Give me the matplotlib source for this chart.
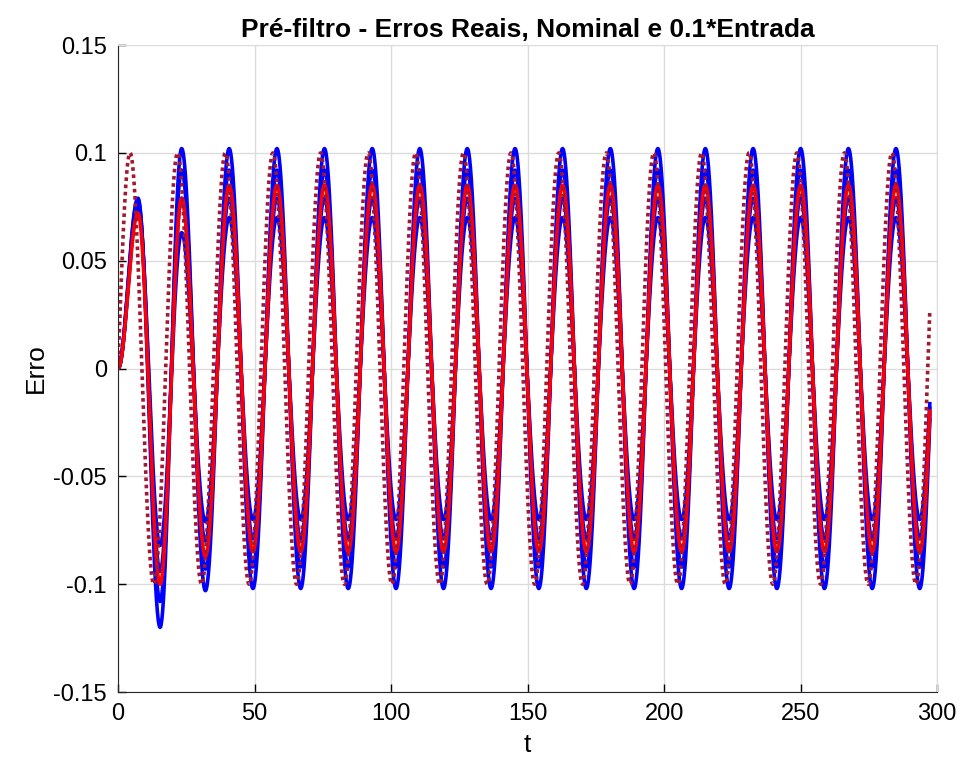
import numpy as np
import matplotlib
matplotlib.use("Agg")
import matplotlib.pyplot as plt
from matplotlib.ticker import FuncFormatter

# ---- dados ----
T_FIM = 297.3

# extremos (picos/vales) da entrada 0.1*Entrada
t_ext_entrada = [-4.4, 4.4, 13.1, 21.8, 30.6, 39.3, 48.0, 56.7, 65.4, 74.2, 82.9, 91.6,
                 100.3, 109.0, 117.8, 126.5, 135.2, 143.9, 152.6, 161.4, 170.1, 178.8,
                 187.5, 196.2, 205.0, 213.7, 222.4, 231.1, 239.8, 248.6, 257.3, 266.0,
                 274.7, 283.4, 292.2, 300.9]
v_ext_entrada = [-0.1, 0.1] * 18

# extremos dos erros (reais e nominal)
t_ext_erro = [0, 7.3, 15.4, 23.3, 32.0, 40.7, 49.4, 58.2, 66.9, 75.6, 84.3, 93.1, 101.8,
              110.5, 119.2, 127.9, 136.6, 145.4, 154.1, 162.8, 171.5, 180.3, 189.0, 197.7,
              206.4, 215.1, 223.8, 232.6, 241.3, 250.0, 258.7, 267.5, 276.2, 284.9, 293.6,
              302.3]
erro_real_1 = [0, 0.079, -0.120, 0.102, -0.103] + [0.102, -0.102] * 15 + [0.102]
erro_real_2 = [0, 0.078, -0.108, 0.092, -0.093] + [0.092, -0.092] * 15 + [0.092]
erro_real_3 = [0, 0.076, -0.094, 0.079, -0.080] + [0.079, -0.079] * 15 + [0.079]
erro_real_4 = [0, 0.074, -0.082, 0.063, -0.071] + [0.070, -0.070] * 15 + [0.070]
erro_nominal = [0, 0.072, -0.100, 0.079, -0.087] + [0.085, -0.085] * 15 + [0.085]

y_ticks = [-0.15, -0.1, -0.05, 0, 0.05, 0.1, 0.15]
x_ticks = [0, 50, 100, 150, 200, 250, 300]


def curva(t_ext, v_ext, t):
    # liga os extremos lidos com meias-ondas suaves
    t_ext = np.asarray(t_ext, float); v_ext = np.asarray(v_ext, float)
    i = np.clip(np.searchsorted(t_ext, t, side="right") - 1, 0, len(t_ext) - 2)
    s = (t - t_ext[i]) / (t_ext[i + 1] - t_ext[i])
    return v_ext[i] + (v_ext[i + 1] - v_ext[i]) * (1 - np.cos(np.pi * s)) / 2


plt.rcParams["font.family"] = ["Liberation Sans", "DejaVu Sans"]

t = np.linspace(0, T_FIM, 4000)
fig = plt.figure(figsize=(9.62, 7.72), dpi=100)
ax = fig.add_axes([0.1227, 0.1036, 0.8515, 0.838])

for e in [erro_real_1, erro_real_2, erro_real_3, erro_real_4]:
    ax.plot(t, curva(t_ext_erro, e, t), color="#0000ff", lw=2.6)
ax.plot(t, curva(t_ext_erro, erro_nominal, t), color="#ff0000", lw=2.6)
ax.plot(t, curva(t_ext_entrada, v_ext_entrada, t), color="#a3182c", lw=2.6,
        linestyle=(0, (1, 1)))

ax.set_xlim(0, 300); ax.set_ylim(-0.15, 0.15)
ax.set_xticks(x_ticks); ax.set_yticks(y_ticks)
ax.yaxis.set_major_formatter(FuncFormatter(lambda v, p: f"{v:g}"))
ax.grid(True, color="#dcdcdc", lw=1)
ax.set_axisbelow(True)
ax.tick_params(direction="in", labelsize=17, length=6, width=1, pad=8)
for s in ["top", "right"]:
    ax.spines[s].set_color("#dcdcdc")
for s in ["left", "bottom"]:
    ax.spines[s].set_color("#262626")

ax.set_xlabel("t", fontsize=19, labelpad=6)
ax.set_ylabel("Erro", fontsize=19, labelpad=4)
ax.set_title("Pré-filtro - Erros Reais, Nominal e 0.1*Entrada", fontsize=19,
             fontweight="bold", pad=6)

fig.savefig("out.png", dpi=100)
